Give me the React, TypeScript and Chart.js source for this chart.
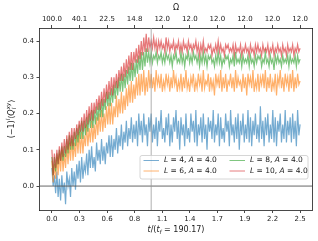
import { useEffect, useRef } from 'react';
import { Chart, registerables } from 'chart.js';

Chart.register(...registerables);

// ---- data (sampled every T_STEP in t/t_f, 8 samples per 0.1) ----
const T_STEP = 0.0125;

const blueL4 = [
  0.05, 0.00, 0.03, -0.02, 0.04, -0.03, 0.02, -0.04,
  0.03, -0.02, 0.01, -0.05, 0.04, 0.00, 0.02, -0.03,
  0.05, 0.00, 0.04, -0.01, 0.06, 0.02, 0.07, 0.01,
  0.08, 0.02, 0.06, 0.04, 0.09, 0.03, 0.10, 0.05,
  0.11, 0.05, 0.08, 0.04, 0.12, 0.07, 0.10, 0.06,
  0.13, 0.07, 0.11, 0.06, 0.12, 0.09, 0.14, 0.08,
  0.14, 0.08, 0.13, 0.10, 0.16, 0.09, 0.14, 0.11,
  0.17, 0.10, 0.15, 0.12, 0.18, 0.11, 0.16, 0.13,
  0.19, 0.12, 0.17, 0.13, 0.18, 0.11, 0.20, 0.14,
  0.18, 0.12, 0.20, 0.14, 0.17, 0.11, 0.19, 0.15,
  0.20, 0.12, 0.17, 0.13, 0.19, 0.11, 0.18, 0.15,
  0.21, 0.13, 0.16, 0.12, 0.19, 0.14, 0.20, 0.11,
  0.17, 0.12, 0.19, 0.15, 0.21, 0.13, 0.18, 0.10,
  0.19, 0.14, 0.17, 0.11, 0.20, 0.13, 0.16, 0.12,
  0.20, 0.15, 0.18, 0.12, 0.21, 0.11, 0.17, 0.14,
  0.19, 0.12, 0.20, 0.13, 0.17, 0.10, 0.19, 0.15,
  0.18, 0.13, 0.21, 0.12, 0.17, 0.14, 0.20, 0.11,
  0.19, 0.13, 0.16, 0.12, 0.20, 0.15, 0.18, 0.11,
  0.21, 0.14, 0.17, 0.12, 0.19, 0.13, 0.20, 0.10,
  0.18, 0.14, 0.20, 0.12, 0.17, 0.13, 0.21, 0.12,
  0.19, 0.11, 0.18, 0.14, 0.20, 0.13, 0.17, 0.12,
  0.22, 0.13, 0.18, 0.11, 0.19, 0.14, 0.20, 0.12,
  0.17, 0.13, 0.21, 0.12, 0.19, 0.11, 0.18, 0.15,
  0.20, 0.12, 0.17, 0.13, 0.21, 0.12, 0.18, 0.14,
  0.19, 0.12, 0.20, 0.13, 0.18, 0.11, 0.21, 0.14,
  0.17,
];

const orangeL6 = [
  0.07, 0.01, 0.06, 0.02, 0.08, 0.03, 0.09, 0.04,
  0.10, 0.04, 0.09, 0.05, 0.11, 0.06, 0.12, 0.07,
  0.13, 0.07, 0.12, 0.08, 0.14, 0.09, 0.15, 0.09,
  0.15, 0.09, 0.14, 0.11, 0.17, 0.11, 0.16, 0.12,
  0.18, 0.12, 0.17, 0.13, 0.19, 0.14, 0.20, 0.15,
  0.21, 0.15, 0.20, 0.16, 0.22, 0.17, 0.23, 0.17,
  0.23, 0.17, 0.22, 0.19, 0.25, 0.19, 0.24, 0.20,
  0.26, 0.20, 0.25, 0.21, 0.27, 0.22, 0.28, 0.23,
  0.29, 0.23, 0.28, 0.24, 0.30, 0.25, 0.31, 0.25,
  0.31, 0.26, 0.32, 0.25, 0.30, 0.26, 0.32, 0.27,
  0.31, 0.27, 0.30, 0.26, 0.32, 0.28, 0.30, 0.27,
  0.31, 0.26, 0.29, 0.27, 0.31, 0.28, 0.30, 0.26,
  0.30, 0.27, 0.32, 0.28, 0.30, 0.26, 0.29, 0.27,
  0.31, 0.26, 0.30, 0.27, 0.32, 0.27, 0.29, 0.26,
  0.30, 0.28, 0.31, 0.26, 0.29, 0.27, 0.31, 0.28,
  0.30, 0.26, 0.32, 0.27, 0.29, 0.28, 0.31, 0.26,
  0.30, 0.27, 0.29, 0.25, 0.31, 0.28, 0.30, 0.27,
  0.32, 0.26, 0.30, 0.27, 0.31, 0.26, 0.29, 0.28,
  0.31, 0.27, 0.30, 0.26, 0.32, 0.27, 0.30, 0.28,
  0.29, 0.26, 0.31, 0.27, 0.30, 0.25, 0.31, 0.28,
  0.30, 0.27, 0.32, 0.26, 0.29, 0.27, 0.31, 0.26,
  0.30, 0.28, 0.31, 0.27, 0.32, 0.26, 0.30, 0.27,
  0.31, 0.26, 0.29, 0.27, 0.31, 0.25, 0.30, 0.28,
  0.32, 0.27, 0.30, 0.26, 0.31, 0.28, 0.30, 0.26,
  0.31, 0.27, 0.32, 0.26, 0.30, 0.27, 0.31, 0.28,
  0.29,
];

const greenL8 = [
  0.08, 0.03, 0.08, 0.04, 0.09, 0.06, 0.10, 0.07,
  0.11, 0.07, 0.11, 0.08, 0.13, 0.09, 0.14, 0.10,
  0.14, 0.10, 0.15, 0.11, 0.16, 0.12, 0.17, 0.13,
  0.18, 0.13, 0.18, 0.14, 0.19, 0.15, 0.20, 0.16,
  0.21, 0.16, 0.21, 0.17, 0.22, 0.18, 0.23, 0.19,
  0.24, 0.19, 0.24, 0.21, 0.26, 0.22, 0.26, 0.22,
  0.27, 0.23, 0.28, 0.24, 0.29, 0.25, 0.30, 0.26,
  0.31, 0.26, 0.31, 0.27, 0.32, 0.28, 0.33, 0.29,
  0.34, 0.29, 0.34, 0.30, 0.35, 0.31, 0.36, 0.32,
  0.37, 0.32, 0.37, 0.33, 0.38, 0.34, 0.37, 0.34,
  0.37, 0.34, 0.36, 0.35, 0.37, 0.34, 0.36, 0.35,
  0.37, 0.34, 0.36, 0.34, 0.37, 0.35, 0.36, 0.34,
  0.36, 0.33, 0.36, 0.35, 0.37, 0.34, 0.35, 0.34,
  0.37, 0.34, 0.36, 0.33, 0.36, 0.35, 0.37, 0.34,
  0.36, 0.34, 0.37, 0.35, 0.36, 0.34, 0.36, 0.33,
  0.36, 0.34, 0.37, 0.34, 0.36, 0.33, 0.36, 0.35,
  0.36, 0.34, 0.35, 0.33, 0.36, 0.34, 0.37, 0.34,
  0.36, 0.33, 0.35, 0.34, 0.36, 0.35, 0.36, 0.33,
  0.35, 0.34, 0.36, 0.33, 0.37, 0.34, 0.35, 0.34,
  0.36, 0.33, 0.36, 0.34, 0.35, 0.34, 0.36, 0.33,
  0.36, 0.34, 0.35, 0.33, 0.36, 0.34, 0.36, 0.35,
  0.36, 0.33, 0.35, 0.34, 0.37, 0.34, 0.35, 0.33,
  0.36, 0.34, 0.35, 0.32, 0.36, 0.34, 0.36, 0.34,
  0.35, 0.33, 0.36, 0.34, 0.35, 0.34, 0.36, 0.33,
  0.36, 0.34, 0.35, 0.34, 0.36, 0.33, 0.36, 0.34,
  0.35,
];

const redL10 = [
  0.10, 0.03, 0.09, 0.05, 0.10, 0.06, 0.11, 0.07,
  0.12, 0.08, 0.13, 0.09, 0.14, 0.10, 0.15, 0.11,
  0.16, 0.11, 0.16, 0.13, 0.17, 0.14, 0.18, 0.15,
  0.19, 0.15, 0.20, 0.16, 0.21, 0.17, 0.22, 0.18,
  0.23, 0.18, 0.23, 0.20, 0.24, 0.21, 0.25, 0.21,
  0.26, 0.22, 0.27, 0.23, 0.28, 0.24, 0.29, 0.25,
  0.30, 0.25, 0.30, 0.27, 0.31, 0.27, 0.32, 0.29,
  0.33, 0.29, 0.34, 0.30, 0.35, 0.31, 0.36, 0.32,
  0.37, 0.32, 0.37, 0.34, 0.38, 0.34, 0.39, 0.35,
  0.40, 0.36, 0.41, 0.37, 0.42, 0.37, 0.41, 0.38,
  0.40, 0.38, 0.41, 0.38, 0.40, 0.37, 0.40, 0.38,
  0.40, 0.38, 0.39, 0.37, 0.41, 0.38, 0.40, 0.37,
  0.39, 0.38, 0.40, 0.37, 0.39, 0.38, 0.40, 0.37,
  0.39, 0.37, 0.40, 0.38, 0.39, 0.37, 0.40, 0.38,
  0.39, 0.37, 0.39, 0.38, 0.40, 0.37, 0.39, 0.36,
  0.39, 0.37, 0.40, 0.37, 0.38, 0.37, 0.39, 0.38,
  0.39, 0.36, 0.38, 0.37, 0.39, 0.37, 0.40, 0.37,
  0.39, 0.37, 0.38, 0.36, 0.39, 0.38, 0.39, 0.37,
  0.38, 0.37, 0.39, 0.36, 0.39, 0.37, 0.38, 0.37,
  0.39, 0.36, 0.38, 0.37, 0.39, 0.37, 0.38, 0.36,
  0.39, 0.37, 0.38, 0.36, 0.39, 0.37, 0.39, 0.37,
  0.38, 0.36, 0.39, 0.37, 0.38, 0.37, 0.39, 0.36,
  0.38, 0.37, 0.39, 0.36, 0.38, 0.37, 0.39, 0.37,
  0.38, 0.36, 0.39, 0.37, 0.38, 0.36, 0.39, 0.37,
  0.38, 0.37, 0.39, 0.36, 0.38, 0.37, 0.39, 0.37,
  0.38,
];

const seriesL = ['4', '6', '8', '10'];
const seriesA = ['4.0', '4.0', '4.0', '4.0'];
const seriesColors = ['31,119,180', '255,127,14', '44,160,44', '214,39,40'];
const seriesValues = [blueL4, orangeL6, greenL8, redL10];

const T_MAX = 2.5;
const MARKER_T = 1.0;
const xTickLabels = ['0.0', '0.3', '0.6', '0.8', '1.1', '1.4', '1.7', '1.9', '2.2', '2.5'];
const omegaTickLabels = ['100.0', '40.1', '22.5', '14.8', '12.0', '12.0', '12.0', '12.0', '12.0', '12.0'];
const yTickValues = [0.0, 0.1, 0.2, 0.3, 0.4];
const yTickLabels = ['0.0', '0.1', '0.2', '0.3', '0.4'];

const FONT = "'DejaVu Sans', sans-serif";
const TICK_SIZE = 7;
const LABEL_SIZE = 7.5;
const TITLE_SIZE = 8;
const INK = '#1a1a1a';

type Seg = { t: string; it?: boolean; s?: number; dy?: number; back?: boolean };

function segFont(seg: Seg, size: number) {
  return `${seg.it ? 'italic ' : ''}${(size * (seg.s || 1)).toFixed(2)}px ${FONT}`;
}

function drawRich(ctx: CanvasRenderingContext2D, segs: Seg[], x: number, y: number, size: number, align: 'center' | 'left') {
  let w = 0;
  const widths: number[] = [];
  for (const sg of segs) {
    ctx.font = segFont(sg, size);
    const sw = ctx.measureText(sg.t).width;
    widths.push(sw);
    if (!sg.back) w += sw;
  }
  let cx = align === 'center' ? x - w / 2 : x;
  ctx.textBaseline = 'middle';
  ctx.textAlign = 'left';
  segs.forEach((sg, i) => {
    ctx.font = segFont(sg, size);
    ctx.fillText(sg.t, cx, y + (sg.dy || 0) * size);
    if (!sg.back) cx += widths[i];
  });
}

const xTickPos = xTickLabels.map((_, i) => (T_MAX * i) / (xTickLabels.length - 1));

const decorPlugin = {
  id: 'decor',
  afterDatasetsDraw(chart: any) {
    const { ctx, chartArea } = chart;
    const xs = chart.scales.x;
    const ys = chart.scales.y;
    ctx.save();
    ctx.beginPath();
    ctx.rect(chartArea.left, chartArea.top, chartArea.right - chartArea.left, chartArea.bottom - chartArea.top);
    ctx.clip();
    const y0 = ys.getPixelForValue(0);
    ctx.strokeStyle = '#555';
    ctx.lineWidth = 0.9;
    ctx.beginPath();
    ctx.moveTo(chartArea.left, y0);
    ctx.lineTo(chartArea.right, y0);
    ctx.stroke();
    const xv = xs.getPixelForValue(MARKER_T);
    ctx.strokeStyle = 'rgba(150,150,150,0.75)';
    ctx.lineWidth = 1;
    ctx.beginPath();
    ctx.moveTo(xv, chartArea.top);
    ctx.lineTo(xv, chartArea.bottom);
    ctx.stroke();
    ctx.restore();
  },
  afterDraw(chart: any) {
    const { ctx, chartArea } = chart;
    ctx.save();
    ctx.strokeStyle = INK;
    ctx.lineWidth = 0.8;
    ctx.beginPath();
    ctx.moveTo(chartArea.right, chartArea.top);
    ctx.lineTo(chartArea.right, chartArea.bottom);
    ctx.stroke();

    ctx.fillStyle = INK;
    const midX = (chartArea.left + chartArea.right) / 2;
    const midY = (chartArea.top + chartArea.bottom) / 2;
    drawRich(ctx, [{ t: 'Ω' }], midX, 8, TITLE_SIZE, 'center');
    drawRich(
      ctx,
      [{ t: 't', it: true }, { t: '/(' }, { t: 't', it: true }, { t: 'f', it: true, s: 0.7, dy: 0.3 }, { t: ' = 190.17)' }],
      midX,
      chartArea.bottom + 20,
      TITLE_SIZE,
      'center'
    );
    ctx.save();
    ctx.translate(12, midY);
    ctx.rotate(-Math.PI / 2);
    drawRich(
      ctx,
      [
        { t: '(−1)' },
        { t: 'l', it: true, s: 0.7, dy: -0.4 },
        { t: '⟨' },
        { t: 'Q', it: true },
        { t: 'l', it: true, s: 0.7, dy: 0.3, back: true },
        { t: 'xy', it: true, s: 0.7, dy: -0.4 },
        { t: '⟩' },
      ],
      0,
      0,
      TITLE_SIZE,
      'center'
    );
    ctx.restore();

    // legend
    const bx = 140, by = 155.5, bw = 168, bh = 23.5;
    ctx.beginPath();
    const r = 2;
    ctx.moveTo(bx + r, by);
    ctx.lineTo(bx + bw - r, by);
    ctx.arcTo(bx + bw, by, bx + bw, by + r, r);
    ctx.lineTo(bx + bw, by + bh - r);
    ctx.arcTo(bx + bw, by + bh, bx + bw - r, by + bh, r);
    ctx.lineTo(bx + r, by + bh);
    ctx.arcTo(bx, by + bh, bx, by + bh - r, r);
    ctx.lineTo(bx, by + r);
    ctx.arcTo(bx, by, bx + r, by, r);
    ctx.closePath();
    ctx.fillStyle = 'rgba(255,255,255,0.8)';
    ctx.fill();
    ctx.strokeStyle = '#cccccc';
    ctx.lineWidth = 0.8;
    ctx.stroke();

    const rows = [160.5, 171];
    const cols = [143.5, 229.5];
    seriesL.forEach((L, i) => {
      const col = Math.floor(i / 2);
      const row = i % 2;
      const lx = cols[col];
      const ly = rows[row];
      ctx.strokeStyle = `rgba(${seriesColors[i]},0.6)`;
      ctx.lineWidth = 1;
      ctx.beginPath();
      ctx.moveTo(lx, ly);
      ctx.lineTo(lx + 15.5, ly);
      ctx.stroke();
      ctx.fillStyle = INK;
      drawRich(
        ctx,
        [{ t: 'L', it: true }, { t: ' = ' + L + ', ' }, { t: 'A', it: true }, { t: ' = ' + seriesA[i] }],
        lx + 20.5,
        ly,
        LABEL_SIZE,
        'left'
      );
    });
    ctx.restore();
  },
};

export default function App() {
  const ref = useRef<HTMLCanvasElement | null>(null);
  useEffect(() => {
    if (!ref.current) return;
    const datasets = seriesValues.map((vals, i) => ({
      label: `L = ${seriesL[i]}, A = ${seriesA[i]}`,
      data: vals.map((v, k) => ({ x: k * T_STEP, y: v })),
      borderColor: `rgba(${seriesColors[i]},0.62)`,
      borderWidth: 1.2,
      pointRadius: 0,
      tension: 0,
      fill: false,
      order: seriesValues.length - 1 - i,
      xAxisID: 'x',
      yAxisID: 'y',
    }));
    const tickFont = { family: FONT, size: TICK_SIZE };
    const tickGrid = { drawOnChartArea: false, drawTicks: true, tickLength: 3, tickColor: INK, tickWidth: 0.8 };
    const border = { display: true, color: INK, width: 0.8 };
    const chart = new Chart(ref.current, {
      type: 'line',
      data: { datasets },
      plugins: [decorPlugin],
      options: {
        animation: false,
        responsive: false,
        events: [],
        layout: { padding: { left: 0, right: 5.5, top: 0, bottom: 0 } },
        plugins: { legend: { display: false }, tooltip: { enabled: false } },
        scales: {
          x: {
            type: 'linear',
            position: 'bottom',
            min: -0.125,
            max: 2.625,
            afterBuildTicks: (s: any) => {
              s.ticks = xTickPos.map((v) => ({ value: v }));
            },
            afterFit: (s: any) => {
              s.height = 31;
            },
            ticks: {
              autoSkip: false,
              maxRotation: 0,
              minRotation: 0,
              font: tickFont,
              color: INK,
              padding: 2,
              callback: (_v: any, i: number) => xTickLabels[i],
            },
            grid: tickGrid,
            border,
          },
          x2: {
            type: 'linear',
            position: 'top',
            min: -0.125,
            max: 2.625,
            afterBuildTicks: (s: any) => {
              s.ticks = xTickPos.map((v) => ({ value: v }));
            },
            afterFit: (s: any) => {
              s.height = 28;
            },
            ticks: {
              autoSkip: false,
              maxRotation: 0,
              minRotation: 0,
              font: tickFont,
              color: INK,
              padding: 2,
              callback: (_v: any, i: number) => omegaTickLabels[i],
            },
            grid: tickGrid,
            border,
          },
          y: {
            type: 'linear',
            position: 'left',
            min: -0.066,
            max: 0.436,
            afterBuildTicks: (s: any) => {
              s.ticks = yTickValues.map((v) => ({ value: v }));
            },
            afterFit: (s: any) => {
              s.width = 39.5;
            },
            ticks: {
              font: tickFont,
              color: INK,
              padding: 2.5,
              callback: (_v: any, i: number) => yTickLabels[i],
            },
            grid: tickGrid,
            border,
          },
        },
      },
    } as any);
    return () => chart.destroy();
  }, []);
  return (
    <div style={{ position: 'absolute', left: 0, top: 0, width: 318, height: 241, background: '#fff' }}>
      <canvas ref={ref} width={318} height={241} style={{ display: 'block', width: 318, height: 241 }} />
    </div>
  );
}
